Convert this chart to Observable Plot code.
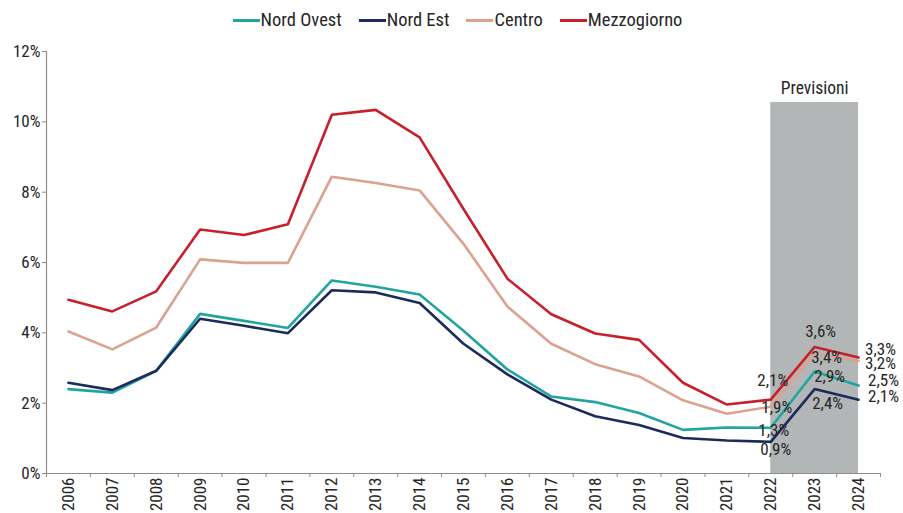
<!DOCTYPE html>
<html>
<head>
<meta charset="utf-8">
<script src="https://cdn.jsdelivr.net/npm/d3@7"></script>
<script src="https://cdn.jsdelivr.net/npm/@observablehq/plot@0.6"></script>
<style>
  html, body { margin: 0; padding: 0; background: #fff; }
  body { width: 903px; height: 513px; overflow: hidden; font-family: Roboto, sans-serif; color: #262626; }
  #legend { height: 40px; display: flex; justify-content: center; align-items: center; gap: 17px; padding-left: 12px; box-sizing: border-box; }
  #legend .item { display: flex; align-items: center; }
  #legend .sw { display: inline-block; width: 27px; height: 3px; margin-right: 1px; }
  #probe { position: absolute; visibility: hidden; white-space: nowrap; font-family: Roboto; font-size: 20px; }
</style>
</head>
<body>
<span id="probe">2006 Nord Ovest</span>
<div id="legend"></div>
<div id="chart"></div>
<script>
const years = [2006,2007,2008,2009,2010,2011,2012,2013,2014,2015,2016,2017,2018,2019,2020,2021,2022,2023,2024];
const seriesNames = ["Nord Ovest", "Nord Est", "Centro", "Mezzogiorno"];
const nordOvest   = [2.40,2.30,2.92,4.54,4.34,4.14,5.49,5.31,5.09,4.06,2.96,2.19,2.03,1.72,1.24,1.31,1.3,2.9,2.5];
const nordEst     = [2.58,2.37,2.92,4.40,4.20,3.99,5.21,5.15,4.85,3.69,2.82,2.10,1.63,1.38,1.01,0.94,0.9,2.4,2.1];
const centro      = [4.04,3.53,4.15,6.09,5.99,5.99,8.44,8.26,8.05,6.53,4.75,3.69,3.11,2.76,2.08,1.70,1.9,3.4,3.2];
const mezzogiorno = [4.94,4.61,5.18,6.94,6.78,7.09,10.20,10.34,9.56,7.52,5.54,4.53,3.98,3.80,2.58,1.96,2.1,3.6,3.3];
const labelYears = [2022, 2023, 2024];
const forecastStart = 2022, forecastEnd = 2024, forecastTop = 10.55;
const forecastLabel = "Previsioni";
const yTicks = [0,2,4,6,8,10,12];

const colors = ["#20a59e", "#1d2b5c", "#dba290", "#c8202b"];
const allValues = [nordOvest, nordEst, centro, mezzogiorno];

// detect whether a condensed width of Roboto is available
const probe = document.getElementById("probe");
const wNormal = probe.getBoundingClientRect().width;
probe.style.fontStretch = "75%";
const wCond = probe.getBoundingClientRect().width;
const condensed = wCond < wNormal * 0.95;
const stretch = condensed ? "75%" : "normal";
const fs = condensed ? 17 : 15;
const fsLegend = condensed ? 18.5 : 16;
const fsPrev = condensed ? 17.5 : 15.5;

const data = [];
seriesNames.forEach((s, i) => years.forEach((y, j) => data.push({series: s, year: y, value: allValues[i][j]})));

// legend
const leg = document.getElementById("legend");
leg.style.fontSize = fsLegend + "px";
leg.style.fontStretch = stretch;
seriesNames.forEach((s, i) => {
  const it = document.createElement("div"); it.className = "item";
  const sw = document.createElement("span"); sw.className = "sw"; sw.style.background = colors[i];
  const tx = document.createElement("span"); tx.textContent = s;
  it.appendChild(sw); it.appendChild(tx); leg.appendChild(it);
});

// label offsets (style only)
const off = {
  "Mezzogiorno": {2022: [2, -19], 2023: [6, -15], 2024: [22, -8]},
  "Centro":      {2022: [6, 1],   2023: [12, 4],  2024: [22, 3]},
  "Nord Ovest":  {2022: [3, 3],   2023: [15, 5],  2024: [25, -5]},
  "Nord Est":    {2022: [5, 8],   2023: [13, 14], 2024: [25, -3]}
};
const labelData = data.filter(d => labelYears.includes(d.year)).map(d => ({...d, dx: off[d.series][d.year][0], dy: off[d.series][d.year][1]}));
const fmt = v => v.toFixed(1).replace(".", ",") + "%";

const textMarks = labelData.map(d => Plot.text([d], {x: "year", y: "value", text: dd => fmt(dd.value), dx: d.dx, dy: d.dy, fontSize: fs, fill: "#262626"}));

const plot = Plot.plot({
  width: 903,
  height: 473,
  marginTop: 11,
  marginBottom: 40,
  marginLeft: 46,
  marginRight: 23,
  style: {fontFamily: 'Roboto, sans-serif', fontSize: fs + "px", fontStretch: stretch, color: "#262626", background: "#fff", overflow: "visible"},
  x: {domain: [2005.5, 2024.5]},
  y: {domain: [0, 12]},
  color: {domain: seriesNames, range: colors},
  marks: [
    Plot.rect([{x1: forecastStart, x2: forecastEnd, y1: 0, y2: forecastTop}], {x1: "x1", x2: "x2", y1: "y1", y2: "y2", fill: "#b3b6b7"}),
    Plot.text([{x: (forecastStart + forecastEnd) / 2, y: forecastTop, t: forecastLabel}], {x: "x", y: "y", text: "t", dy: -14, fontSize: fsPrev, fill: "#262626"}),
    Plot.ruleX([2005.5], {y1: 0, y2: 12, stroke: "#8c8c8c", strokeWidth: 1.2}),
    Plot.ruleY([0], {stroke: "#8c8c8c", strokeWidth: 1.2}),
    Plot.axisY({ticks: yTicks, tickFormat: d => d + "%", tickSize: 4, tickPadding: 2, stroke: "#8c8c8c", label: null, fontSize: fs}),
    Plot.axisX({ticks: d3.range(2005.5, 2025, 1), tickSize: 4, tickFormat: () => "", stroke: "#8c8c8c", label: null}),
    Plot.axisX({ticks: years, tickSize: 0, tickRotate: -90, tickPadding: 4, tickFormat: d => String(d), label: null, fontSize: fs}),
    Plot.line(data, {x: "year", y: "value", z: "series", stroke: "series", strokeWidth: 2.6, curve: "linear"}),
    ...textMarks
  ]
});
document.getElementById("chart").appendChild(plot);
</script>
</body>
</html>
